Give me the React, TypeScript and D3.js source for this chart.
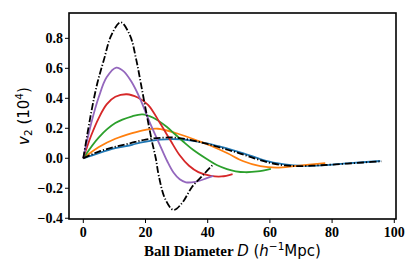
import React from 'react'
import * as d3 from 'd3'

// [D, v2] pairs
const blue: [number, number][] = [
  [0, 0], [5, 0.035], [10.3, 0.067], [15.7, 0.09], [18.3, 0.105], [24.7, 0.125], [31.1, 0.127],
  [35, 0.118], [39.7, 0.1], [44, 0.078], [48, 0.055], [51.5, 0.033], [56.9, -0.005], [62.2, -0.033],
  [67.6, -0.047], [73, -0.05], [78.3, -0.045], [85.8, -0.033], [95.5, -0.018],
]
const orange: [number, number][] = [
  [0, 0], [5, 0.075], [10.3, 0.13], [15.7, 0.168], [20, 0.19], [24, 0.197], [30, 0.167],
  [37.6, 0.111], [40.8, 0.085], [46.2, 0.035], [51.5, -0.02], [56.9, -0.053], [62.2, -0.062],
  [68.7, -0.05], [77.8, -0.033],
]
const green: [number, number][] = [
  [0, 0], [5, 0.14], [10.3, 0.235], [15.7, 0.28], [19, 0.293], [22.5, 0.27], [26.8, 0.21],
  [29.5, 0.16], [32.2, 0.11], [35.4, 0.055], [39.7, -0.005], [42.9, -0.045], [46.2, -0.072],
  [49, -0.087], [52, -0.093], [56, -0.088], [60.3, -0.07],
]
const red: [number, number][] = [
  [0, 0], [2.5, 0.15], [5, 0.27], [7.5, 0.36], [10.3, 0.41], [14, 0.427], [17.5, 0.405],
  [20.9, 0.355], [24.7, 0.233], [28, 0.12], [31, 0.02], [34, -0.05], [37, -0.092],
  [41, -0.117], [44.5, -0.121], [48, -0.105],
]
const purple: [number, number][] = [
  [0, 0], [2.5, 0.23], [5, 0.41], [7.5, 0.54], [10.6, 0.605], [13, 0.58], [15.5, 0.51],
  [18.2, 0.4], [21.5, 0.233], [24.7, 0.085], [27, -0.02], [29, -0.095], [31, -0.14],
  [33, -0.16], [36, -0.157], [39.7, -0.133], [41.8, -0.118],
]
const blackBig: [number, number][] = [
  [0, 0], [2.4, 0.29], [4.5, 0.5], [6.6, 0.655], [9, 0.82], [12, 0.907], [15, 0.82],
  [17, 0.66], [18.5, 0.5], [20.3, 0.3], [22, 0.12], [23.3, 0], [24.3, -0.12], [26.3, -0.27],
  [29, -0.345], [31.7, -0.3], [35, -0.19], [38.6, -0.11], [42, -0.035],
]
const blackSmall: [number, number][] = [
  [0, 0], [5, 0.045], [10, 0.075], [15, 0.1], [20, 0.125], [25, 0.137], [30, 0.137],
  [35, 0.12], [40, 0.095], [45, 0.065], [50, 0.035], [55, 0.0], [60, -0.03], [65, -0.048],
  [70, -0.052], [75, -0.048], [80, -0.042], [85, -0.035], [90, -0.028], [96, -0.02],
]

const xTicks = [0, 20, 40, 60, 80, 100]
const yTicks = [-0.4, -0.2, 0.0, 0.2, 0.4, 0.6, 0.8]

const series = [
  { data: blue, color: '#1f77b4' },
  { data: orange, color: '#ff7f0e' },
  { data: green, color: '#2ca02c' },
  { data: red, color: '#d62728' },
  { data: purple, color: '#9467bd' },
]

const serif = 'Liberation Serif, DejaVu Serif, serif'
const sans = 'DejaVu Sans, sans-serif'

export default function App() {
  const left = 69, right = 396, top = 13, bottom = 219
  const x = d3.scaleLinear().domain([-4.6, 100.55]).range([left, right])
  const y = d3.scaleLinear().domain([-0.405, 0.969]).range([bottom, top])
  const line = d3.line<[number, number]>()
    .x(d => x(d[0]))
    .y(d => y(d[1]))
    .curve(d3.curveCatmullRom.alpha(0.5))

  const fmt = (v: number) => d3.format('.1f')(v).replace('-', '\u2212')

  return (
    <svg width={415} height={277} style={{ position: 'absolute', left: 0, top: 0, background: '#fff' }}>
      {series.map((s, i) => (
        <path key={i} d={line(s.data) ?? ''} fill="none" stroke={s.color} strokeWidth={1.8} />
      ))}
      <path d={line(blackSmall) ?? ''} fill="none" stroke="#000" strokeWidth={1.8}
        strokeDasharray="7,2,1.2,2" />
      <path d={line(blackBig) ?? ''} fill="none" stroke="#000" strokeWidth={1.8}
        strokeDasharray="7,2,1.2,2" />

      <rect x={left} y={top} width={right - left} height={bottom - top}
        fill="none" stroke="#000" strokeWidth={1.6} />

      {xTicks.map(t => (
        <g key={t} transform={`translate(${x(t)},${bottom})`}>
          <line y1={0} y2={4} stroke="#000" strokeWidth={1} />
          <text y={18} textAnchor="middle" fontFamily={serif} fontWeight="bold" fontSize={14}>{t}</text>
        </g>
      ))}
      {yTicks.map(t => (
        <g key={t} transform={`translate(${left},${y(t)})`}>
          <line x1={0} x2={-4} stroke="#000" strokeWidth={1} />
          <text x={-6} dy="0.35em" textAnchor="end" fontFamily={serif} fontWeight="bold" fontSize={14}>{fmt(t)}</text>
        </g>
      ))}

      <text x={(left + right) / 2} y={256} textAnchor="middle" fontSize={15}>
        <tspan fontFamily={serif} fontWeight="bold">Ball Diameter </tspan>
        <tspan fontFamily={sans} fontStyle="italic">D</tspan>
        <tspan fontFamily={sans}> (</tspan>
        <tspan fontFamily={sans} fontStyle="italic">h</tspan>
        <tspan fontFamily={sans} fontSize={10.5} dy={-6}>{'\u22121'}</tspan>
        <tspan fontFamily={sans} dy={6}>Mpc)</tspan>
      </text>

      <text transform={`translate(29,${(top + bottom) / 2}) rotate(-90)`} textAnchor="middle"
        fontFamily={sans} fontSize={15}>
        <tspan fontStyle="italic">v</tspan>
        <tspan fontSize={10.5} dy={3}>2</tspan>
        <tspan dy={-3}> (10</tspan>
        <tspan fontSize={10.5} dy={-6}>4</tspan>
        <tspan dy={6}>)</tspan>
      </text>
    </svg>
  )
}
